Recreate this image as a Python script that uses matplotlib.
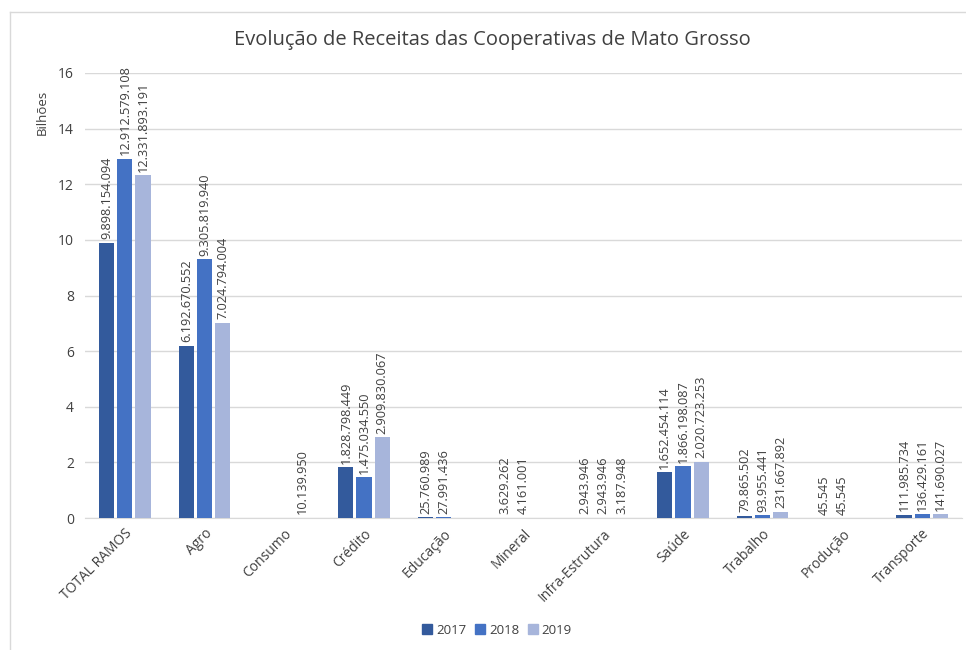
import matplotlib
matplotlib.use("Agg")
import matplotlib.pyplot as plt
import numpy as np
from matplotlib.lines import Line2D

categories = ["TOTAL RAMOS", "Agro", "Consumo", "Crédito", "Educação", "Mineral",
              "Infra-Estrutura", "Saúde", "Trabalho", "Produção", "Transporte"]
years = ["2017", "2018", "2019"]
v2017 = [9898154094, 6192670552, None, 1828798449, 25760989, 3629262,
         2943946, 1652454114, 79865502, 45545, 111985734]
v2018 = [12912579108, 9305819940, None, 1475034550, 27991436, 4161001,
         2943946, 1866198087, 93955441, 45545, 136429161]
v2019 = [12331893191, 7024794004, 10139950, 2909830067, None, None,
         3187948, 2020723253, 231667892, None, 141690027]
colors = ["#335A9C", "#4472C4", "#A7B5DB"]
title = "Evolução de Receitas das Cooperativas de Mato Grosso"

plt.rcParams['font.family'] = ['Open Sans', 'DejaVu Sans']
fig = plt.figure(figsize=(9.66, 6.5), dpi=100)
W, H = 966, 650
ax = fig.add_axes([85 / W, 1 - 518 / H, (962 - 85) / W, (518 - 73) / H])

x = np.arange(len(categories))
bw = 0.19
off = 0.228

def fmt(v):
    return f"{v:,}".replace(",", ".")

for i, (series, c) in enumerate(zip([v2017, v2018, v2019], colors)):
    xs = x + (i - 1) * off
    vals = [np.nan if v is None else v / 1e9 for v in series]
    ax.bar(xs, vals, width=bw, color=c, zorder=3)
    for xi, v in zip(xs, series):
        if v is None:
            continue
        ax.annotate(fmt(v), (xi, v / 1e9), xytext=(0, 2.5), textcoords="offset points",
                    rotation=90, ha="center", va="bottom", fontsize=9.2, color="#404040")

ax.set_ylim(0, 16)
ax.set_xlim(-0.5, len(categories) - 0.5)
ax.set_yticks(range(0, 17, 2))
ax.yaxis.grid(True, color="#D9D9D9", linewidth=1, zorder=0)
ax.set_axisbelow(True)
for s in ["left", "right", "top"]:
    ax.spines[s].set_visible(False)
ax.spines["bottom"].set_color("#D9D9D9")
ax.tick_params(axis="both", length=0, labelsize=10, colors="#404040")
ax.tick_params(axis="y", pad=8)
ax.set_xticks(x)
ax.set_xticklabels(categories, rotation=45, ha="right", rotation_mode="anchor")
ax.tick_params(axis="x", pad=6)

fig.text(492 / W, 1 - 40 / H, title, ha="center", va="center", fontsize=14.5, color="#404040")
fig.text(42 / W, 1 - 112 / H, "Bilhões", rotation=90, ha="center", va="center",
         fontsize=9.5, color="#404040")

handles = [Line2D([], [], marker="s", linestyle="none", color=c, markersize=7) for c in colors]
fig.legend(handles, years, loc="center", bbox_to_anchor=(497 / W, 1 - 630 / H), ncol=3,
           frameon=False, fontsize=9.5, handlelength=0.8, handletextpad=0.3,
           columnspacing=0.6, labelcolor="#404040")

fig.add_artist(Line2D([10 / W, 1], [1 - 12 / H, 1 - 12 / H], color="#D9D9D9", linewidth=1))
fig.add_artist(Line2D([10 / W, 10 / W], [0, 1 - 12 / H], color="#D9D9D9", linewidth=1))

fig.savefig("out.png", dpi=100)
